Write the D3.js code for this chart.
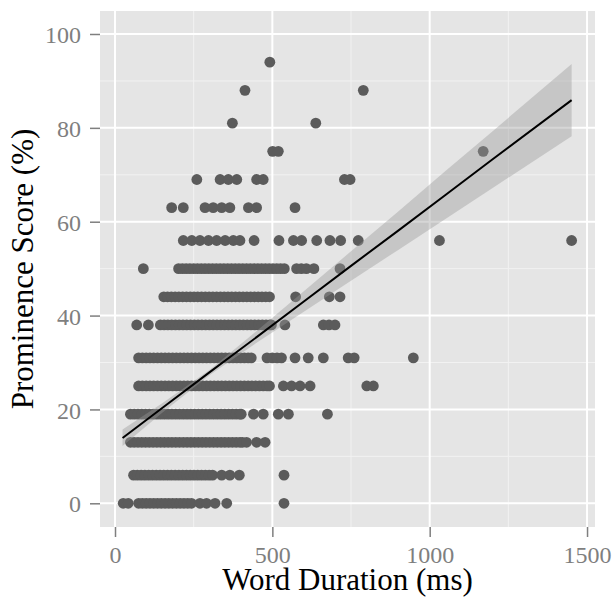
<!DOCTYPE html>
<html>
<head>
<meta charset="utf-8">
<script src="https://cdn.jsdelivr.net/npm/d3@7"></script>
<style>
  html, body { margin: 0; padding: 0; background: #ffffff; }
  svg { display: block; }
  text { font-family: "Liberation Serif", "Times New Roman", serif; }
</style>
</head>
<body>
<svg id="chart" width="613" height="597"></svg>
<script>
// Prominence score levels (%) — each row of words shares one score
const rowScores = [0, 6, 13, 19, 25, 31, 38, 44, 50, 56, 63, 69, 75, 81, 88, 94];

// Word durations (ms) of the words in each score row
const rowDurations = [
  [26, 42, 75, 87, 99, 111, 123, 135, 147, 159, 171, 183, 195, 207, 219, 231, 243, 270, 291, 318, 355, 537],
  [59, 71, 83, 95, 107, 119, 131, 143, 155, 167, 179, 191, 203, 215, 227, 239, 251, 263, 275, 287, 299, 310, 339, 365, 395, 537],
  [49, 61, 73, 85, 97, 109, 121, 133, 145, 157, 169, 181, 193, 205, 217, 229, 241, 253, 265, 277, 289, 301, 313, 325, 337, 349, 361, 373, 385, 397, 405, 418, 450, 477],
  [49, 61, 73, 85, 97, 109, 121, 133, 145, 157, 169, 181, 193, 205, 217, 229, 241, 253, 265, 277, 289, 301, 313, 325, 337, 349, 361, 373, 385, 397, 401, 440, 471, 519, 551, 675],
  [75, 87, 99, 111, 123, 135, 147, 159, 171, 183, 195, 207, 219, 231, 243, 255, 267, 279, 291, 303, 315, 327, 339, 351, 363, 375, 387, 399, 411, 423, 435, 447, 459, 471, 483, 491, 535, 561, 588, 620, 800, 821],
  [75, 87, 99, 111, 123, 135, 147, 159, 171, 183, 195, 207, 219, 231, 243, 255, 267, 279, 291, 303, 315, 327, 339, 351, 363, 375, 387, 399, 411, 423, 433, 483, 500, 515, 529, 572, 614, 662, 741, 760, 948],
  [69, 106, 144, 156, 168, 180, 192, 204, 216, 228, 240, 252, 264, 276, 288, 300, 312, 324, 336, 348, 360, 372, 384, 396, 408, 420, 432, 444, 456, 468, 480, 492, 497, 540, 662, 680, 699],
  [155, 167, 179, 191, 203, 215, 227, 239, 251, 263, 275, 287, 299, 311, 323, 335, 347, 359, 371, 383, 395, 407, 419, 431, 443, 455, 467, 479, 491, 574, 681, 715],
  [90, 202, 214, 226, 238, 250, 262, 274, 286, 298, 310, 322, 334, 346, 358, 370, 382, 394, 406, 418, 430, 442, 454, 466, 478, 490, 502, 514, 526, 538, 577, 592, 608, 632, 715],
  [217, 244, 270, 297, 323, 350, 376, 397, 442, 521, 567, 593, 641, 683, 717, 773, 1031, 1451],
  [180, 217, 286, 312, 339, 365, 424, 450, 572],
  [260, 334, 360, 387, 450, 471, 729, 747],
  [501, 519, 1170],
  [373, 638],
  [413, 789],
  [492]
];

// Linear fit with its confidence band, sampled along the duration range
const fitDuration = [24, 150, 300, 450, 600, 750, 900, 1050, 1200, 1451];
const fitScore    = [13.9, 20.3, 27.9, 35.4, 43.0, 50.6, 58.1, 65.7, 73.3, 85.9];
const fitLower    = [12.2, 19.3, 27.3, 34.2, 40.8, 47.4, 54.0, 60.6, 67.2, 78.2];
const fitUpper    = [15.7, 21.3, 28.4, 36.7, 45.2, 53.7, 62.2, 70.8, 79.3, 93.6];

// Axis ticks
const xTicks = [0, 500, 1000, 1500];
const xMinorTicks = [250, 750, 1250];
const yTicks = [0, 20, 40, 60, 80, 100];
const yMinorTicks = [10, 30, 50, 70, 90];

const xTitle = "Word Duration (ms)";
const yTitle = "Prominence Score (%)";

const panel = { left: 100, right: 595, top: 11, bottom: 527 };

const svg = d3.select("#chart");

const x = d3.scaleLinear().domain([-47.7, 1525.3]).range([panel.left, panel.right]);
const y = d3.scaleLinear().domain([-5.05, 104.9]).range([panel.bottom, panel.top]);

// Panel background
svg.append("rect")
  .attr("x", panel.left).attr("y", panel.top)
  .attr("width", panel.right - panel.left)
  .attr("height", panel.bottom - panel.top)
  .attr("fill", "#e5e5e5");

// Grid lines
const grid = svg.append("g");
grid.selectAll("line.xminor").data(xMinorTicks).join("line")
  .attr("x1", d => x(d)).attr("x2", d => x(d))
  .attr("y1", panel.top).attr("y2", panel.bottom)
  .attr("stroke", "#f2f2f2").attr("stroke-width", 1);
grid.selectAll("line.yminor").data(yMinorTicks).join("line")
  .attr("y1", d => y(d)).attr("y2", d => y(d))
  .attr("x1", panel.left).attr("x2", panel.right)
  .attr("stroke", "#f2f2f2").attr("stroke-width", 1);
grid.selectAll("line.xmajor").data(xTicks).join("line")
  .attr("x1", d => x(d)).attr("x2", d => x(d))
  .attr("y1", panel.top).attr("y2", panel.bottom)
  .attr("stroke", "#ffffff").attr("stroke-width", 2);
grid.selectAll("line.ymajor").data(yTicks).join("line")
  .attr("y1", d => y(d)).attr("y2", d => y(d))
  .attr("x1", panel.left).attr("x2", panel.right)
  .attr("stroke", "#ffffff").attr("stroke-width", 2);

// Word points
const points = rowScores.flatMap((s, i) => rowDurations[i].map(d => ({ duration: d, score: s })));
svg.append("g").selectAll("circle").data(points).join("circle")
  .attr("cx", d => x(d.duration))
  .attr("cy", d => y(d.score))
  .attr("r", 5.4)
  .attr("fill", "#5b5b5b");

// Confidence band and fitted line
const fit = fitDuration.map((d, i) => ({ d, s: fitScore[i], lo: fitLower[i], hi: fitUpper[i] }));
svg.append("path").datum(fit)
  .attr("d", d3.area().x(p => x(p.d)).y0(p => y(p.lo)).y1(p => y(p.hi)))
  .attr("fill", "#999999").attr("fill-opacity", 0.4);
svg.append("path").datum(fit)
  .attr("d", d3.line().x(p => x(p.d)).y(p => y(p.s)))
  .attr("fill", "none").attr("stroke", "#000000").attr("stroke-width", 2);

// Axes
const xAxis = svg.append("g")
  .attr("transform", `translate(0,${panel.bottom})`)
  .call(d3.axisBottom(x).tickValues(xTicks).tickSize(10).tickPadding(10).tickFormat(d3.format("d")));
const yAxis = svg.append("g")
  .attr("transform", `translate(${panel.left},0)`)
  .call(d3.axisLeft(y).tickValues(yTicks).tickSize(10).tickPadding(9).tickFormat(d3.format("d")));

[xAxis, yAxis].forEach(g => {
  g.select(".domain").remove();
  g.selectAll(".tick line").attr("stroke", "#7f7f7f").attr("stroke-width", 1.5);
  g.selectAll(".tick text")
    .attr("fill", "#7f7f7f")
    .style("font-family", '"Liberation Serif", "Times New Roman", serif')
    .style("font-size", "24px");
});
xAxis.selectAll(".tick text").attr("dy", null).attr("y", 36);
yAxis.selectAll(".tick text").attr("dy", "0.36em");

// Axis titles
svg.append("text")
  .attr("x", (panel.left + panel.right) / 2)
  .attr("y", 590)
  .attr("text-anchor", "middle")
  .attr("fill", "#000000")
  .style("font-size", "31px")
  .text(xTitle);
svg.append("text")
  .attr("transform", `translate(33,${(panel.top + panel.bottom) / 2}) rotate(-90)`)
  .attr("text-anchor", "middle")
  .attr("fill", "#000000")
  .style("font-size", "31px")
  .text(yTitle);
</script>
</body>
</html>
